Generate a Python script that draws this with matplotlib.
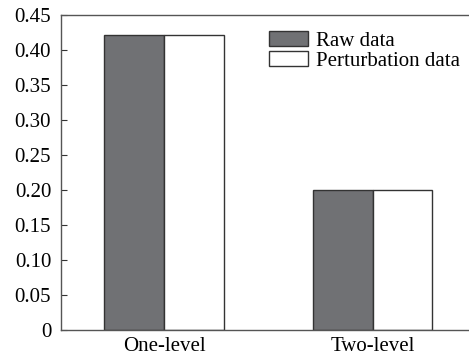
import numpy as np
import matplotlib.pyplot as plt
from matplotlib.patches import Patch

plt.rcParams['font.family'] = ['Liberation Serif', 'DejaVu Serif']

categories = ['One-level', 'Two-level']
raw_data = [0.422, 0.200]
perturbation_data = [0.422, 0.200]
yticks = [0, 0.05, 0.10, 0.15, 0.20, 0.25, 0.30, 0.35, 0.40, 0.45]
ytick_labels = ['0', '0.05', '0.10', '0.15', '0.20', '0.25', '0.30', '0.35', '0.40', '0.45']

gray = '#707174'
edge = '#333333'
w = 0.285
fs = 15

fig = plt.figure(figsize=(4.69, 3.57), dpi=100)
ax = fig.add_axes([0.130, 0.0756, 0.870, 0.882])

x = np.arange(len(categories))
ax.bar(x - w / 2, raw_data, w, color=gray, edgecolor=edge, linewidth=1.0)
ax.bar(x + w / 2, perturbation_data, w, color='white', edgecolor=edge, linewidth=1.0)

ax.set_xlim(-0.493, 1.46)
ax.set_ylim(0, 0.45)
ax.set_yticks(yticks)
ax.set_yticklabels(ytick_labels)
ax.set_xticks(x)
ax.set_xticklabels(categories)
ax.tick_params(axis='y', direction='in', length=4, labelsize=fs, pad=7, color=edge)
ax.tick_params(axis='x', length=0, labelsize=fs, pad=5)
ax.spines['right'].set_visible(False)
for s in ['left', 'top', 'bottom']:
    ax.spines[s].set_color('#555555')
    ax.spines[s].set_linewidth(1.0)

handles = [Patch(facecolor=gray, edgecolor=edge, label='Raw data'),
           Patch(facecolor='white', edgecolor=edge, label='Perturbation data')]
fig.legend(handles=handles, loc='upper left', bbox_to_anchor=(269 / 469, 1 - 31 / 357),
           frameon=False, fontsize=fs, handlelength=1.87, handleheight=0.75,
           handletextpad=0.4, labelspacing=0.0, borderpad=0, borderaxespad=0)

fig.savefig('out.png', dpi=100)
